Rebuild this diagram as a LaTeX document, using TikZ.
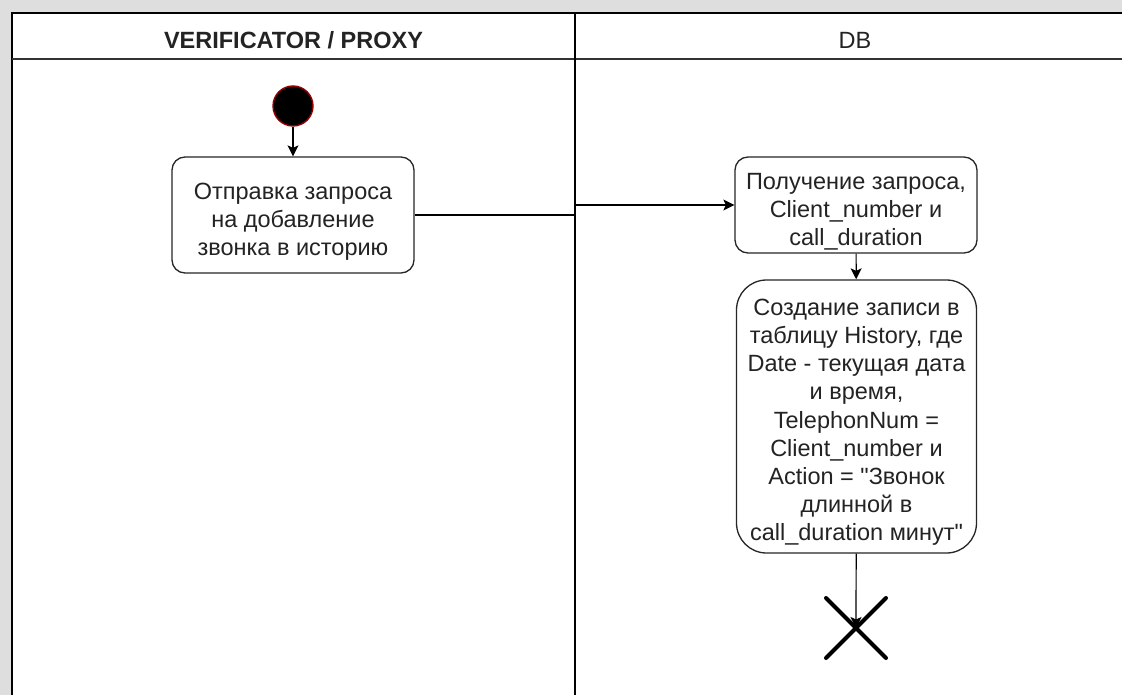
\documentclass[tikz,border=0pt]{standalone}
\usepackage{fontspec}
\setmainfont{Liberation Sans}[Ligatures=TeXOff]
\usetikzlibrary{arrows.meta}
\definecolor{bggray}{RGB}{222,222,222}
\definecolor{txt}{RGB}{35,35,35}
\definecolor{startred}{RGB}{150,0,0}
\newcommand{\topstrut}[1]{\rule{0pt}{#1}}
\tikzset{
  lane/.style={line width=1.6pt, draw=black},
  actbox/.style={draw=black!85, line width=1.3pt, fill=white, rounded corners=13pt, align=center,
    inner sep=1pt, text=txt, font=\fontsize{23.5}{28.3}\selectfont},
  flow/.style={line width=1.2pt, -{Stealth[length=11pt,width=11pt,inset=2.5pt]}},
  header/.style={font=\fontsize{23.5}{26}\selectfont, text=txt},
}
\begin{document}
\begin{tikzpicture}[x=1pt,y=-1pt]
\useasboundingbox (0,0) rectangle (1122,695);
\fill[bggray] (0,0) rectangle (1122,695);
\fill[white] (12,13) rectangle (1122,695);
% swimlane lines
\draw[lane] (12,695) -- (12,13) -- (1122,13);
\draw[line width=1.5pt, draw=black!80] (12,59) -- (1122,59);
\draw[line width=2.8pt] (575,13) -- (575,695);
% headers
\node[header, font=\fontsize{23.5}{26}\selectfont\bfseries] (h1) at (293.5,40) {VERIFICATOR / PROXY};
\node[header] (h2) at (855,40) {DB};
% start
\node[circle, fill=black, draw=startred, line width=1.4pt, minimum size=40pt, inner sep=0pt] (start) at (293,106) {};
% boxes
\node[actbox, minimum width=242pt, minimum height=116pt] (b1) at (293,215)
  {\topstrut{29.5pt}Отправка запроса\\на добавление\\звонка в историю};
\node[actbox, minimum width=242pt, minimum height=96pt] (b2) at (856,205)
  {\topstrut{30pt}Получение запроса,\\Client\_number и\\call\_duration};
\node[actbox, rounded corners=30pt, minimum width=240pt, minimum height=273pt,
  font=\fontsize{23.5}{28.1}\selectfont] (b3) at (856.5,416.5)
  {\topstrut{28pt}Создание записи в\\таблицу History, где\\Date - текущая дата\\и время,\\TelephonNum =\\Client\_number и\\Action = "Звонок\\длинной в\\call\_duration минут"};
\coordinate (xend) at (856,628);
% connectors
\draw[flow] (start) -- (b1);
\draw[flow] (b1.east) -- (575,215) -- (575,205) -- (b2.west);
\draw[flow] (b2) -- (b3);
\draw[flow] (b3) -- (xend);
% final X
\draw[line width=4pt, line cap=round] ([shift={(-30,-30)}]xend) -- ([shift={(30,30)}]xend);
\draw[line width=4pt, line cap=round] ([shift={(-30,30)}]xend) -- ([shift={(30,-30)}]xend);
\end{tikzpicture}
\end{document}
